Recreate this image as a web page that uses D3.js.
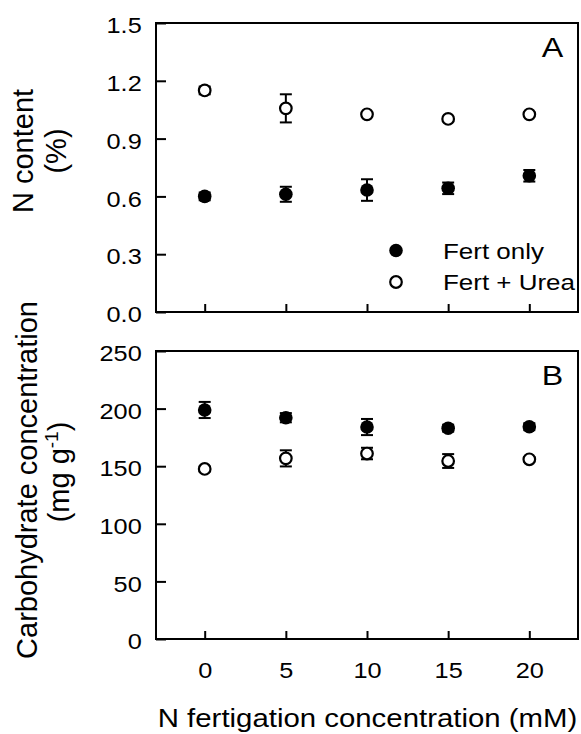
<!DOCTYPE html>
<html>
<head>
<meta charset="utf-8">
<script src="https://cdn.jsdelivr.net/npm/d3@7"></script>
<style>
body { margin: 0; background: #fff; }
text { font-family: "Liberation Sans", Arial, sans-serif; fill: #000; }
</style>
</head>
<body>
<script>
// N fertigation concentration (mM)
const conc = [0, 5, 10, 15, 20];

// panel A: N content (%)
const nFert = [0.600, 0.611, 0.633, 0.642, 0.707];
const nFertErr = [0.02, 0.039, 0.056, 0.03, 0.03];
const nUrea = [1.150, 1.057, 1.026, 1.002, 1.026];
const nUreaErr = [0.02, 0.073, 0.01, 0.01, 0.01];

// panel B: carbohydrate (mg g-1)
const cFert = [198.8, 192.1, 184, 183, 184.3];
const cFertErr = [7, 4, 7, 3, 3];
const cUrea = [147.6, 156.8, 161, 154.5, 156];
const cUreaErr = [2, 7, 5, 6, 2];

const ticksA = [0, 0.3, 0.6, 0.9, 1.2, 1.5];
const ticksB = [0, 50, 100, 150, 200, 250];

const W = 581, H = 734;
const SX = 1.15; // horizontal stretch of the reference lettering

const svg = d3.select("body").append("svg")
    .attr("width", W)
    .attr("height", H);

const left = 156, right = 578;
const x = d3.scaleLinear().domain([-3, 23]).range([left, right]);

// horizontal text, stretched a little sideways like the original
function label(px, py, txt, size, anchor, sx) {
    const t = svg.append("g").attr("transform", `translate(${px},${py})`)
        .append("text")
        .attr("transform", `scale(${sx || SX},1)`)
        .attr("text-anchor", anchor || "start")
        .style("font-size", size + "px");
    if (txt) t.text(txt);
    return t;
}

function panel(top, bottom, domain, ticks, fmt, series, letter, showX) {
    const y = d3.scaleLinear().domain(domain).range([bottom, top]);
    const g = svg.append("g");

    // y axis ticks inward
    const ya = d3.axisLeft(y).tickValues(ticks).tickFormat(fmt).tickSizeInner(-10).tickSizeOuter(0);
    const yg = g.append("g").attr("transform", `translate(${left},0)`).call(ya);
    yg.select(".domain").remove();
    yg.selectAll("line").attr("stroke", "#000").attr("stroke-width", 2);
    yg.selectAll("text")
        .attr("x", -14.3 / SX).attr("y", 9.7).attr("dy", null)
        .attr("transform", `scale(${SX},1)`)
        .attr("fill", "#000")
        .style("font-size", "22px").attr("font-family", null);

    // x axis ticks inward
    const xa = d3.axisBottom(x).tickValues(conc).tickSizeInner(-8).tickSizeOuter(0);
    const xg = g.append("g").attr("transform", `translate(0,${bottom})`).call(xa);
    xg.select(".domain").remove();
    xg.selectAll("line").attr("stroke", "#000").attr("stroke-width", 2);
    xg.selectAll("text")
        .attr("y", 39).attr("dy", null)
        .attr("transform", `scale(${SX},1)`)
        .attr("fill", "#000")
        .style("font-size", "22px").attr("font-family", null);
    if (!showX) xg.selectAll("text").remove();
    // tick text is scaled about the tick origin, so it stays centred
    xg.selectAll(".tick text").attr("x", 0);

    // frame
    g.append("rect")
        .attr("x", left).attr("y", top)
        .attr("width", right - left).attr("height", bottom - top)
        .attr("fill", "none").attr("stroke", "#000").attr("stroke-width", 2);

    series.forEach(s => {
        const pts = conc.map((c, i) => ({c: c, v: s.vals[i], e: s.errs[i]}));
        const eb = g.append("g");
        pts.forEach(d => {
            const x0 = x(d.c), y1 = y(d.v + d.e), y2 = y(d.v - d.e);
            eb.append("line").attr("x1", x0).attr("x2", x0).attr("y1", y1).attr("y2", y2)
                .attr("stroke", "#000").attr("stroke-width", 2);
            [y1, y2].forEach(yy => eb.append("line")
                .attr("x1", x0 - 6).attr("x2", x0 + 6).attr("y1", yy).attr("y2", yy)
                .attr("stroke", "#000").attr("stroke-width", 2));
        });
        g.selectAll(null).data(pts).enter().append("circle")
            .attr("cx", d => x(d.c))
            .attr("cy", d => y(d.v))
            .attr("r", s.filled ? 6.8 : 5.8)
            .attr("fill", s.filled ? "#000" : "#fff")
            .attr("stroke", "#000")
            .attr("stroke-width", s.filled ? 0 : 2.2);
    });

    label(552.5, top + 34, letter, 28, "middle");
    return y;
}

panel(23, 312, [0, 1.5], ticksA, d3.format(".1f"), [
    {vals: nUrea, errs: nUreaErr, filled: false},
    {vals: nFert, errs: nFertErr, filled: true}
], "A", false);

panel(351, 639, [0, 250], ticksB, d3.format("d"), [
    {vals: cUrea, errs: cUreaErr, filled: false},
    {vals: cFert, errs: cFertErr, filled: true}
], "B", true);

// legend
const legend = [
    {label: "Fert only", filled: true, y: 250.5},
    {label: "Fert + Urea", filled: false, y: 282}
];
legend.forEach(l => {
    svg.append("circle").attr("cx", 396).attr("cy", l.y)
        .attr("r", l.filled ? 6.8 : 5.8)
        .attr("fill", l.filled ? "#000" : "#fff")
        .attr("stroke", "#000").attr("stroke-width", l.filled ? 0 : 2.2);
    label(443, l.y + 8, l.label, 22, "start", 1.18);
});

// axis titles
svg.append("text").attr("transform", "translate(33,151) rotate(-90)")
    .attr("text-anchor", "middle").style("font-size", "29px").text("N content");
svg.append("text").attr("transform", "translate(66,151) rotate(-90)")
    .attr("text-anchor", "middle").style("font-size", "29px").text("(%)");

svg.append("text").attr("transform", "translate(37,480) rotate(-90)")
    .attr("text-anchor", "middle").style("font-size", "29px").text("Carbohydrate concentration");
const t2 = svg.append("text").attr("transform", "translate(69,472) rotate(-90)")
    .attr("text-anchor", "middle").style("font-size", "29px");
t2.append("tspan").text("(mg g");
t2.append("tspan").attr("dy", -11).style("font-size", "19px").text("-1");
t2.append("tspan").attr("dy", 11).text(")");

label(367.5, 727, "N fertigation concentration (mM)", 26, "middle", 1.13);
</script>
</body>
</html>
